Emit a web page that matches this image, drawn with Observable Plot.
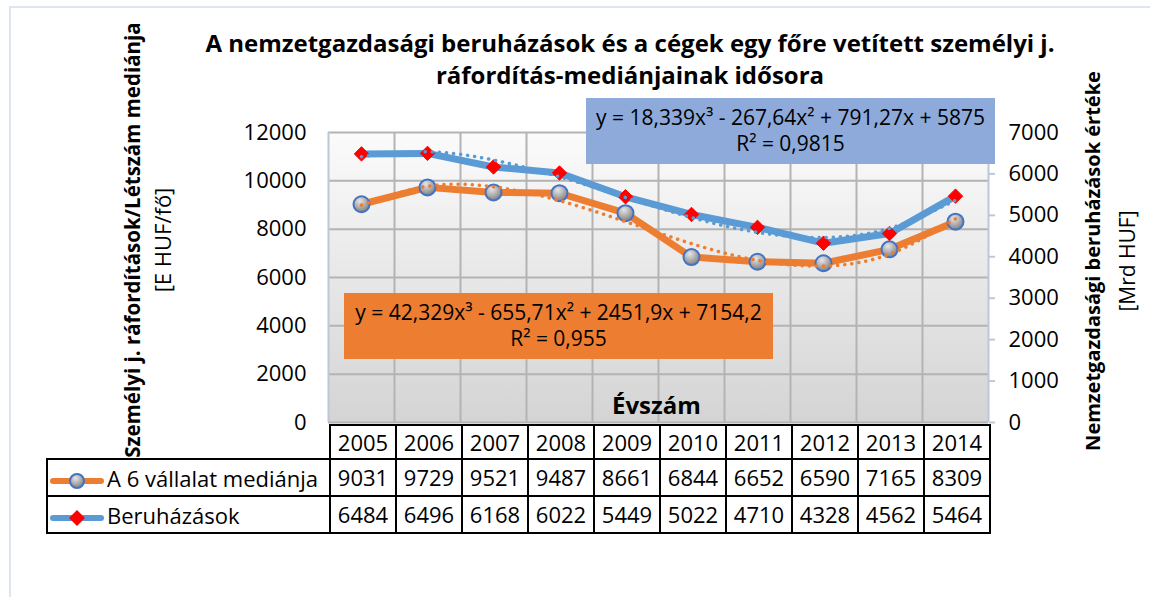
<!DOCTYPE html>
<html>
<head>
<meta charset="utf-8">
<script src="https://cdn.jsdelivr.net/npm/d3@7"></script>
<script src="https://cdn.jsdelivr.net/npm/@observablehq/plot@0.6"></script>
<style>
  html, body { margin: 0; padding: 0; background: #fff; }
  body { width: 1150px; height: 597px; overflow: hidden; font-family: "Open Sans", sans-serif; color: #000; }
  #wrap { position: relative; width: 1150px; height: 597px; }
  #frame { position: absolute; left: 9px; top: 6px; width: 1160px; height: 620px; border-left: 2px solid #dfe5ec; border-top: 2px solid #dfe5ec; box-sizing: border-box; }
  #chart { position: absolute; left: 0; top: 0; }
  .abs { position: absolute; white-space: nowrap; }
  #title { left: 130px; width: 1000px; top: 27px; text-align: center; font-weight: 700; font-size: 24px; line-height: 32px; }
  .vtitle { transform: translate(-50%, -50%) rotate(-90deg); text-align: center; }
  .vtitle div { line-height: 1; }
  .eq { text-align: center; font-size: 21px; box-sizing: border-box; padding-top: 6px; }
  .eq div { height: 26px; line-height: 26px; }
  #tbl { position: absolute; left: 46px; top: 424px; border-collapse: collapse; font-size: 22px; }
  #tbl td { border: 2px solid #000; text-align: center; padding: 0; height: 32px; line-height: 32px; }
  #tbl td.yr { width: 64px; }
  #tbl td.name { width: 281px; text-align: left; padding-left: 0; }
  #tbl td.blank { border: none; }
  #tbl svg { vertical-align: middle; margin-right: 1px; }
</style>
</head>
<body>
<div id="wrap">
  <div id="frame"></div>
  <div id="chart"></div>
</div>
<script>
// ---- data ----
const years = [2005, 2006, 2007, 2008, 2009, 2010, 2011, 2012, 2013, 2014];
const medianValues = [9031, 9729, 9521, 9487, 8661, 6844, 6652, 6590, 7165, 8309];
const investValues = [6484, 6496, 6168, 6022, 5449, 5022, 4710, 4328, 4562, 5464];
const seriesNames = ["A 6 vállalat mediánja", "Beruházások"];
const leftTicks = [0, 2000, 4000, 6000, 8000, 10000, 12000];
const rightTicks = [0, 1000, 2000, 3000, 4000, 5000, 6000, 7000];
// polynomial trendline coefficients shown on the chart (x = 1..10)
const medianTrendCoef = [42.329, -655.71, 2451.9, 7154.2];
const investTrendCoef = [18.339, -267.64, 791.27, 5875];
const medianTrendText = ["y = 42,329x³ - 655,71x² + 2451,9x + 7154,2", "R² = 0,955"];
const investTrendText = ["y = 18,339x³ - 267,64x² + 791,27x + 5875", "R² = 0,9815"];
const titleLines = ["A nemzetgazdasági beruházások és a cégek egy főre vetített személyi j.", "ráfordítás-mediánjainak idősora"];
const leftTitle = ["Személyi j. ráfordítások/Létszám mediánja", "[E HUF/fő]"];
const rightTitle = ["Nemzetgazdasági beruházások értéke", "[Mrd HUF]"];
const xTitle = "Évszám";

// ---- derived ----
const leftMax = 12000, rightMax = 7000;
const k = leftMax / rightMax; // secondary axis mapped onto primary
const poly = (c, x) => c[0] * x ** 3 + c[1] * x ** 2 + c[2] * x + c[3];
const median = years.map((year, i) => ({year, v: medianValues[i]}));
const invest = years.map((year, i) => ({year, v: investValues[i] * k}));
const medianTrend = years.map((year, i) => ({year, v: poly(medianTrendCoef, i + 1)}));
const investTrend = years.map((year, i) => ({year, v: poly(investTrendCoef, i + 1) * k}));
const bounds = d3.range(years[0] - 0.5, years[years.length - 1] + 1, 1);

const ORANGE = "#ed7d31", BLUE = "#5b9bd5", RED = "#ff0000", MARK_STROKE = "#4472c4";

const defs = () => {
  const ns = "http://www.w3.org/2000/svg";
  const d = document.createElementNS(ns, "defs");
  d.innerHTML = `
    <linearGradient id="bgGrad" x1="0" y1="0" x2="0" y2="1">
      <stop offset="0" stop-color="#fbfbfb"/>
      <stop offset="1" stop-color="#d4d4d4"/>
    </linearGradient>
    <radialGradient id="dotGrad" cx="0.4" cy="0.3" r="0.75">
      <stop offset="0" stop-color="#e6e6e6"/>
      <stop offset="1" stop-color="#7a7a7a"/>
    </radialGradient>`;
  return d;
};

const chart = Plot.plot({
  width: 1150,
  height: 597,
  marginLeft: 328,
  marginRight: 162,
  marginTop: 132,
  marginBottom: 175,
  style: {fontFamily: "Open Sans, sans-serif", fontSize: "22px", background: "transparent", overflow: "visible", color: "#000"},
  x: {domain: [bounds[0], bounds[bounds.length - 1]], axis: null},
  y: {domain: [0, leftMax], axis: null},
  marks: [
    defs,
    Plot.frame({fill: "url(#bgGrad)", stroke: null}),
    Plot.ruleY(leftTicks, {stroke: "#b3b3b3", strokeWidth: 2}),
    Plot.ruleX(bounds.slice(1, -1), {stroke: "#b3b3b3", strokeWidth: 2}),
    Plot.ruleX([bounds[0], bounds[bounds.length - 1]], {stroke: "#bcc8da", strokeWidth: 2}),
    Plot.axisY(leftTicks, {anchor: "left", label: null, tickSize: 0, tickPadding: 22, tickFormat: d => String(d), fontSize: 22}),
    Plot.axisY(rightTicks.map(v => v * k), {anchor: "right", label: null, tickSize: 6, tickPadding: 14, stroke: "#bcc8da", strokeWidth: 2, tickFormat: d => String(Math.round(d / k)), fontSize: 22}),
    Plot.line(median, {x: "year", y: "v", stroke: ORANGE, strokeWidth: 7, strokeLinejoin: "round", strokeLinecap: "round"}),
    Plot.line(invest, {x: "year", y: "v", stroke: BLUE, strokeWidth: 7, strokeLinejoin: "round", strokeLinecap: "round"}),
    Plot.dot(median, {x: "year", y: "v", r: 8, fill: "url(#dotGrad)", stroke: MARK_STROKE, strokeWidth: 2}),
    Plot.dot(invest, {x: "year", y: "v", r: 6.5, symbol: "diamond2", fill: RED, stroke: RED, strokeWidth: 1}),
    Plot.line(medianTrend, {x: "year", y: "v", curve: "natural", stroke: ORANGE, strokeWidth: 3.5, strokeDasharray: "0.1 7", strokeLinecap: "round"}),
    Plot.line(investTrend, {x: "year", y: "v", curve: "natural", stroke: BLUE, strokeWidth: 3.5, strokeDasharray: "0.1 7", strokeLinecap: "round"})
  ]
});
document.getElementById("chart").appendChild(chart);

const wrap = document.getElementById("wrap");
function addDiv(cls, html, css) {
  const el = document.createElement("div");
  el.className = "abs " + cls;
  el.innerHTML = html;
  Object.assign(el.style, css);
  wrap.appendChild(el);
  return el;
}
addDiv("", titleLines.join("<br>"), {}).id = "title";
addDiv("vtitle", `<div style="font-size:20.5px;font-weight:700">${leftTitle[0]}</div><div style="font-size:22px;margin-top:8px">${leftTitle[1]}</div>`, {left: "147px", top: "240px"});
addDiv("vtitle", `<div style="font-size:20px;font-weight:700">${rightTitle[0]}</div><div style="font-size:21px;margin-top:14px">${rightTitle[1]}</div>`, {left: "1110px", top: "261px"});
addDiv("", xTitle, {left: "612px", top: "388px", fontWeight: "700", fontSize: "24px"});
addDiv("eq", investTrendText.map(t => `<div>${t}</div>`).join(""), {left: "586px", top: "98px", width: "409px", height: "66px", background: "#8eaadb"});
addDiv("eq", medianTrendText.map(t => `<div>${t}</div>`).join(""), {left: "344px", top: "293px", width: "429px", height: "66px", background: ORANGE});

// ---- data table (replaces the category axis) ----
const icon = (color, marker) => `<svg width="58" height="18"><line x1="5" y1="9" x2="53" y2="9" stroke="${color}" stroke-width="6" stroke-linecap="round"/>${marker}</svg>`;
const icons = [
  icon(ORANGE, `<circle cx="29" cy="9" r="7" fill="url(#dotGrad)" stroke="${MARK_STROKE}" stroke-width="2"/>`),
  icon(BLUE, `<path d="M29 1 L37 9 L29 17 L21 9 Z" fill="${RED}"/>`)
];
const table = document.createElement("table");
table.id = "tbl";
let html = `<tr><td class="blank name"></td>${years.map(y => `<td class="yr">${y}</td>`).join("")}</tr>`;
[medianValues, investValues].forEach((vals, s) => {
  html += `<tr><td class="name">${icons[s]}${seriesNames[s]}</td>${vals.map(v => `<td class="yr" style="height:35px;line-height:35px">${v}</td>`).join("")}</tr>`;
});
table.innerHTML = html;
wrap.appendChild(table);
</script>
</body>
</html>
